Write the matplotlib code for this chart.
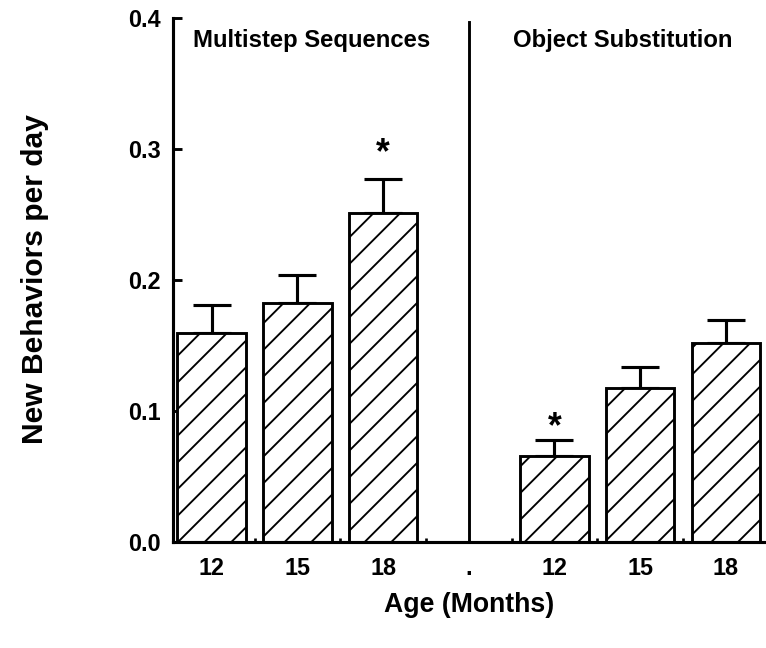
import matplotlib
matplotlib.use("Agg")
import matplotlib.pyplot as plt
from matplotlib.ticker import FixedLocator

plt.rcParams['font.family'] = ['Liberation Sans', 'DejaVu Sans']
plt.rcParams['hatch.linewidth'] = 1.7

# Data
groups = ["Multistep Sequences", "Object Substitution"]
ages = ["12", "15", "18"]
multistep_means = [0.160, 0.183, 0.251]
multistep_err = [0.021, 0.021, 0.026]
objsub_means = [0.066, 0.118, 0.152]
objsub_err = [0.012, 0.016, 0.018]
# significance star levels (None = no star)
multistep_star = [None, None, 0.283]
objsub_star = [0.074, None, None]

DPI = 80
fig = plt.figure(figsize=(766 / DPI, 648 / DPI), dpi=DPI)
ax = fig.add_axes([0.226, 0.163, 0.772, 0.809])

pos_ms = [0, 1, 2]
pos_os = [4, 5, 6]
divider_pos = 3

for pos, means, errs, stars in [(pos_ms, multistep_means, multistep_err, multistep_star),
                                (pos_os, objsub_means, objsub_err, objsub_star)]:
    ax.bar(pos, means, width=0.8, color='white', edgecolor='black',
           linewidth=2.6, hatch='/', zorder=2)
    ax.errorbar(pos, means, yerr=[[0] * len(errs), errs], fmt='none',
                ecolor='black', elinewidth=2.8, capsize=17, capthick=2.8, zorder=1)
    for p, st in zip(pos, stars):
        if st is not None:
            ax.text(p, st, '*', ha='center', va='bottom',
                    fontsize=32, fontweight='bold')

ax.plot([divider_pos, divider_pos], [0, 0.397], color='black', lw=2.6)

ax.text(-0.22, 0.383, groups[0], ha='left', va='center', fontsize=21.5,
        fontweight='bold')
ax.text(4.8, 0.383, groups[1], ha='center', va='center', fontsize=21.5,
        fontweight='bold')

ax.set_xlim(-0.45, 6.45)
ax.set_ylim(0, 0.4)
ax.set_xticks(pos_ms + [divider_pos] + pos_os)
ax.set_xticklabels(ages + ['.'] + ages, fontsize=21, fontweight='bold')
ax.xaxis.set_minor_locator(FixedLocator([0.5, 1.5, 2.5, 3.5, 4.5, 5.5]))
ax.tick_params(axis='x', which='major', length=0, pad=13)
ax.tick_params(axis='x', which='minor', direction='in', length=4, width=2.4)
ax.set_yticks([0.0, 0.1, 0.2, 0.3, 0.4])
ax.set_yticklabels(['0.0', '0.1', '0.2', '0.3', '0.4'], fontsize=21,
                   fontweight='bold')
ax.tick_params(axis='y', direction='in', length=8, width=2.6, pad=11)

for s in ['top', 'right']:
    ax.spines[s].set_visible(False)
for s in ['left', 'bottom']:
    ax.spines[s].set_linewidth(2.8)

fig.text(0.046, 0.570, 'New Behaviors per day', rotation=90, ha='center',
         va='center', fontsize=27, fontweight='bold')
fig.text(0.613, 0.066, 'Age (Months)', ha='center', va='center', fontsize=24,
         fontweight='bold')

fig.savefig('out.png', dpi=DPI)
